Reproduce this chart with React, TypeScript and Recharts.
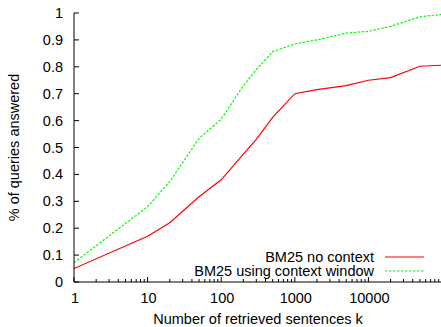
import React from "react";
import { LineChart, Line, XAxis, YAxis, Legend, Label } from "recharts";

// retrieved sentences k (log axis) and fraction of queries answered
const kValues = [1, 10, 20, 50, 100, 200, 300, 500, 1000, 2000, 5000, 10000, 20000, 50000, 100000];
const noContext = [0.05, 0.17, 0.22, 0.317, 0.38, 0.475, 0.53, 0.612, 0.7, 0.715, 0.73, 0.75, 0.76, 0.802, 0.806];
const contextWindow = [0.072, 0.28, 0.373, 0.534, 0.605, 0.73, 0.79, 0.856, 0.885, 0.9, 0.925, 0.932, 0.95, 0.986, 0.995];

const majorTicks = [1, 10, 100, 1000, 10000, 100000];
const labelledTicks = [1, 10, 100, 1000, 10000];
const minorSteps = [2, 3, 4, 5, 6, 7, 8, 9];
const xTicks = majorTicks.flatMap((m) => (m < 100000 ? [m, ...minorSteps.map((s) => s * m)] : [m]));
const yTicks = [0, 0.1, 0.2, 0.3, 0.4, 0.5, 0.6, 0.7, 0.8, 0.9, 1];

const series = [
  { key: "noContext", name: "BM25 no context", color: "#ff0000", dash: undefined as string | undefined },
  { key: "contextWindow", name: "BM25 using context window", color: "#00ff00", dash: "2.5 1.5" },
];

const data = kValues.map((k, i) => ({ k, noContext: noContext[i], contextWindow: contextWindow[i] }));

const FONT = "'Liberation Sans', Arial, Helvetica, sans-serif";
const FS = 14.5;

const BottomTick = (props: any) => {
  const { x, y, payload } = props;
  const v = payload.value;
  const major = majorTicks.includes(v);
  return (
    <g>
      <line x1={x} x2={x} y1={y} y2={y - (major ? 5 : 3)} stroke="#000" />
      {labelledTicks.includes(v) && (
        <text x={x + 1} y={y + 21} textAnchor="middle" fontSize={FS} fontFamily={FONT} fill="#000">
          {v}
        </text>
      )}
    </g>
  );
};

const TopTick = (props: any) => {
  const { x, y, payload } = props;
  const major = majorTicks.includes(payload.value);
  return <line x1={x} x2={x} y1={y} y2={y + (major ? 5 : 3)} stroke="#000" />;
};

const LeftTick = (props: any) => {
  const { x, y, payload } = props;
  return (
    <g>
      <line x1={x} x2={x + 5} y1={y} y2={y} stroke="#000" />
      <text x={x - 11} y={y + 5} textAnchor="end" fontSize={FS} fontFamily={FONT} fill="#000">
        {payload.value}
      </text>
    </g>
  );
};

const RightTick = (props: any) => {
  const { x, y } = props;
  return <line x1={x} x2={x - 5} y1={y} y2={y} stroke="#000" />;
};

const YLabel = (props: any) => {
  const { viewBox } = props;
  const cy = viewBox.y + viewBox.height / 2;
  return (
    <text
      x={14}
      y={cy}
      transform={`rotate(-90, 14, ${cy})`}
      textAnchor="middle"
      dominantBaseline="central"
      fontSize={FS}
      fontFamily={FONT}
      fill="#000"
    >
      % of queries answered
    </text>
  );
};

const LegendBox = () => (
  <div style={{ fontFamily: FONT, fontSize: FS, lineHeight: "14px", color: "#000" }}>
    {series.map((s) => (
      <div key={s.key} style={{ display: "flex", justifyContent: "flex-end", alignItems: "center", height: 14 }}>
        <span style={{ marginRight: 11, whiteSpace: "nowrap", lineHeight: "14px" }}>{s.name}</span>
        <svg width={39} height={4} style={{ marginRight: 6 }}>
          <line x1={0} x2={39} y1={2} y2={2} stroke={s.color} strokeWidth={1.2} strokeDasharray={s.dash} />
        </svg>
      </div>
    ))}
  </div>
);

export default function App() {
  return (
    <div style={{ position: "absolute", left: 0, top: 0, width: 441, height: 327, overflow: "hidden", background: "#fff" }}>
      <LineChart width={443} height={327} data={data} margin={{ top: 13, right: 1, bottom: 0, left: 0 }}>
        <XAxis
          dataKey="k"
          type="number"
          scale="log"
          domain={[1, 100000]}
          allowDataOverflow
          ticks={xTicks}
          interval={0}
          tickSize={0}
          tickMargin={0}
          tickLine={false}
          tick={<BottomTick />}
          height={45}
          axisLine={{ stroke: "#000" }}
        >
          <Label
            value="Number of retrieved sentences k"
            position="insideBottom"
            offset={3}
            style={{ fontFamily: FONT, fontSize: FS, fill: "#000" }}
          />
        </XAxis>
        <XAxis
          xAxisId="top"
          orientation="top"
          dataKey="k"
          type="number"
          scale="log"
          domain={[1, 100000]}
          allowDataOverflow
          ticks={xTicks}
          interval={0}
          tickSize={0}
          tickMargin={0}
          tickLine={false}
          tick={<TopTick />}
          height={0}
          axisLine={{ stroke: "#000" }}
        />
        <YAxis
          type="number"
          domain={[0, 1]}
          ticks={yTicks}
          interval={0}
          tickSize={0}
          tickMargin={0}
          tickLine={false}
          tick={<LeftTick />}
          width={74}
          axisLine={{ stroke: "#000" }}
          label={<Label content={<YLabel />} />}
        />
        <YAxis
          yAxisId="right"
          orientation="right"
          type="number"
          domain={[0, 1]}
          ticks={yTicks}
          interval={0}
          tickSize={0}
          tickMargin={0}
          tickLine={false}
          tick={<RightTick />}
          width={0}
          axisLine={{ stroke: "#000" }}
        />
        <Legend
          layout="horizontal"
          verticalAlign="middle"
          align="center"
          content={<LegendBox />}
          wrapperStyle={{ position: "absolute", left: 120, top: 249.5, width: 310 }}
        />
        {series.map((s) => (
          <Line
            key={s.key}
            type="linear"
            dataKey={s.key}
            name={s.name}
            stroke={s.color}
            strokeWidth={1.2}
            strokeDasharray={s.dash}
            dot={false}
            activeDot={false}
            isAnimationActive={false}
          />
        ))}
      </LineChart>
    </div>
  );
}
